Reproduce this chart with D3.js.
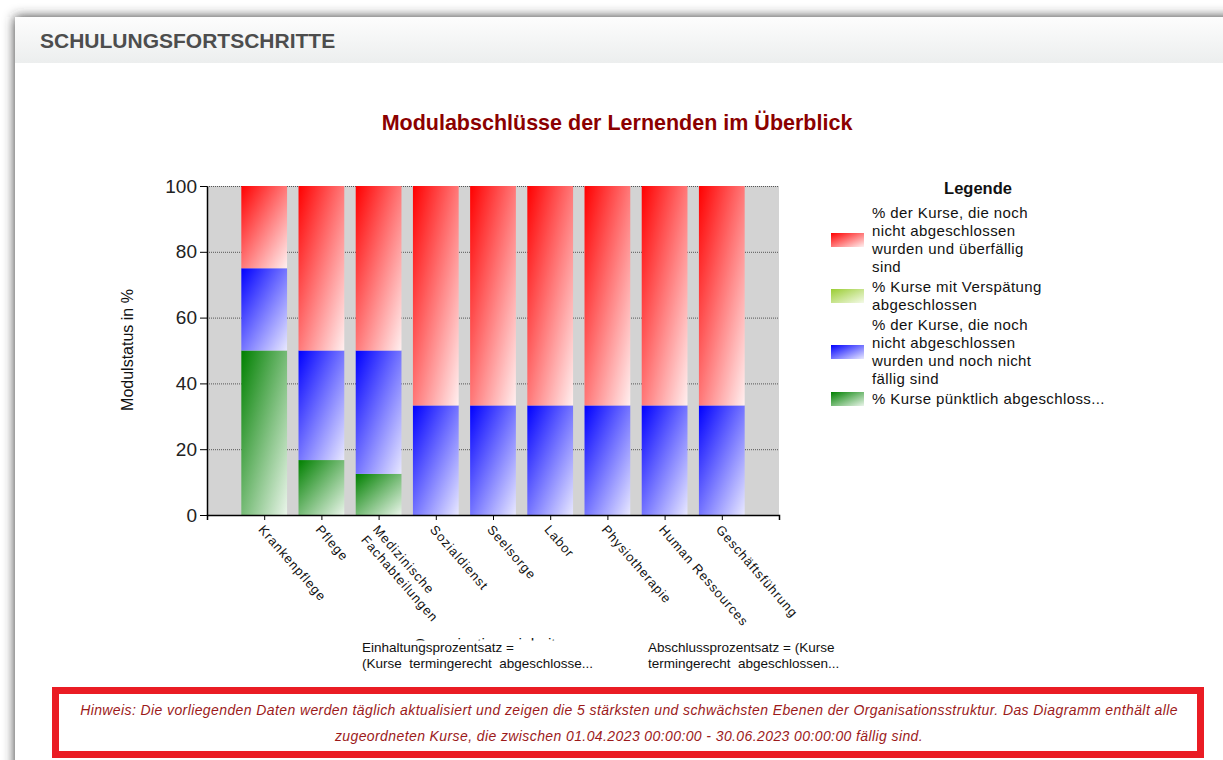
<!DOCTYPE html>
<html>
<head>
<meta charset="utf-8">
<script src="https://cdn.jsdelivr.net/npm/d3@7"></script>
<style>
  html, body { margin: 0; padding: 0; background: #fff; }
  svg { display: block; font-family: "Liberation Sans", Arial, sans-serif; }
</style>
</head>
<body>
<div id="chart"></div>
<script>
var categories = ["Krankenpflege", "Pflege", "Medizinische Fachabteilungen", "Sozialdienst", "Seelsorge", "Labor", "Physiotherapie", "Human Ressources", "Geschäftsführung"];
var categoryLines = [["Krankenpflege"], ["Pflege"], ["Medizinische", "Fachabteilungen"], ["Sozialdienst"], ["Seelsorge"], ["Labor"], ["Physiotherapie"], ["Human Ressources"], ["Geschäftsführung"]];

// stacked from bottom to top
var puenktlich   = [50, 16.7, 12.5, 0, 0, 0, 0, 0, 0];
var verspaetet   = [0, 0, 0, 0, 0, 0, 0, 0, 0];
var offen        = [25, 33.3, 37.5, 33.3, 33.3, 33.3, 33.3, 33.3, 33.3];
var ueberfaellig = [25, 50, 50, 66.7, 66.7, 66.7, 66.7, 66.7, 66.7];

var yTicks = [0, 20, 40, 60, 80, 100];

var seriesKeys = ["puenktlich", "verspaetet", "offen", "ueberfaellig"];
var seriesColors = { puenktlich: "#008000", verspaetet: "#9acd32", offen: "#0000ff", ueberfaellig: "#ff0000" };
var seriesEnd = { puenktlich: "#eaf5ea", verspaetet: "#f4fae8", offen: "#e8e8ff", ueberfaellig: "#fff0f0" };

var legendEntries = [
    { key: "ueberfaellig", lines: ["% der Kurse, die noch", "nicht abgeschlossen", "wurden und überfällig", "sind"] },
    { key: "verspaetet", lines: ["% Kurse mit Verspätung", "abgeschlossen"] },
    { key: "offen", lines: ["% der Kurse, die noch", "nicht abgeschlossen", "wurden und noch nicht", "fällig sind"] },
    { key: "puenktlich", lines: ["% Kurse pünktlich abgeschloss..."] }
];

function init() {
    var W = 1223, H = 760;

    var svg = d3.select("#chart").append("svg")
        .attr("width", W)
        .attr("height", H);

    var defs = svg.append("defs");

    // panel shadow
    var sh = defs.append("filter").attr("id", "shadow")
        .attr("x", "-5%").attr("y", "-5%").attr("width", "110%").attr("height", "110%");
    sh.append("feGaussianBlur").attr("stdDeviation", 6);

    var hg = defs.append("linearGradient").attr("id", "hdr")
        .attr("x1", 0).attr("y1", 0).attr("x2", 0).attr("y2", 1);
    hg.append("stop").attr("offset", 0).attr("stop-color", "#fdfdfd");
    hg.append("stop").attr("offset", 1).attr("stop-color", "#eceeee");

    seriesKeys.forEach(function(k) {
        var g = defs.append("linearGradient").attr("id", "g-" + k)
            .attr("x1", 0).attr("y1", 0).attr("x2", 1).attr("y2", 1);
        g.append("stop").attr("offset", 0).attr("stop-color", seriesColors[k]);
        g.append("stop").attr("offset", 1).attr("stop-color", seriesEnd[k]);
    });

    svg.append("rect").attr("x", 15).attr("y", 17).attr("width", 1300).attr("height", 900)
        .attr("fill", "#333").attr("filter", "url(#shadow)");
    svg.append("rect").attr("x", 15).attr("y", 17).attr("width", 1300).attr("height", 900)
        .attr("fill", "#fff");
    svg.append("rect").attr("x", 15).attr("y", 17).attr("width", 1300).attr("height", 46)
        .attr("fill", "url(#hdr)");

    svg.append("text")
        .attr("x", 40).attr("y", 48)
        .attr("font-size", 21).attr("font-weight", "bold")
        .attr("fill", "#4d4d4d")
        .text("SCHULUNGSFORTSCHRITTE");

    svg.append("text")
        .attr("x", 617).attr("y", 130)
        .attr("text-anchor", "middle")
        .attr("font-size", 21.5).attr("font-weight", "bold")
        .attr("fill", "#8b0000")
        .text("Modulabschlüsse der Lernenden im Überblick");

    // plot
    var left = 207, right = 779, top = 186, bottom = 515;

    var xScale = d3.scaleLinear().domain([0, categories.length + 1]).range([left, right]);
    var yScale = d3.scaleLinear().domain([0, 100]).range([bottom, top]);
    var step = xScale(1) - xScale(0);
    var bw = step * 0.8;

    svg.append("rect")
        .attr("x", left).attr("y", top)
        .attr("width", right - left).attr("height", bottom - top)
        .attr("fill", "#d3d3d3");

    svg.append("g")
        .selectAll("line")
        .data(yTicks.filter(function(d) { return d > 0; }))
        .enter().append("line")
        .attr("x1", left).attr("x2", right)
        .attr("y1", function(d) { return yScale(d) + 0.5; })
        .attr("y2", function(d) { return yScale(d) + 0.5; })
        .attr("stroke", "#555")
        .attr("stroke-dasharray", "1,1");

    var rows = categories.map(function(c, i) {
        return { cat: c, i: i, puenktlich: puenktlich[i], verspaetet: verspaetet[i], offen: offen[i], ueberfaellig: ueberfaellig[i] };
    });
    var stack = d3.stack().keys(seriesKeys)(rows);

    svg.append("g")
        .selectAll("g")
        .data(stack)
        .enter().append("g")
        .attr("fill", function(s) { return "url(#g-" + s.key + ")"; })
        .selectAll("rect")
        .data(function(s) { return s; })
        .enter().append("rect")
        .attr("x", function(d) { return xScale(d.data.i + 1) - bw / 2; })
        .attr("y", function(d) { return yScale(d[1]); })
        .attr("width", bw)
        .attr("height", function(d) { return Math.max(0, yScale(d[0]) - yScale(d[1])); });

    // y axis
    var yAxis = svg.append("g")
        .attr("transform", "translate(" + left + ",0)")
        .call(d3.axisLeft(yScale).tickValues(yTicks).tickSize(7).tickPadding(3).tickSizeOuter(0));
    yAxis.select(".domain").attr("stroke", "#000").attr("stroke-width", 1.5);
    yAxis.selectAll(".tick line").attr("stroke", "#000");
    yAxis.selectAll("text")
        .attr("font-size", 19)
        .attr("font-family", "Liberation Sans, Arial, sans-serif")
        .attr("fill", "#222");

    // x axis
    var xAxis = svg.append("g")
        .attr("transform", "translate(0," + bottom + ")")
        .call(d3.axisBottom(xScale).tickValues(d3.range(1, categories.length + 1)).tickSize(5).tickFormat("").tickSizeOuter(5));
    xAxis.select(".domain").attr("stroke", "#000").attr("stroke-width", 1.5);
    xAxis.selectAll(".tick line").attr("stroke", "#000");

    var lbl = svg.append("g").selectAll("text")
        .data(categoryLines)
        .enter().append("text")
        .attr("transform", function(d, i) {
            return "translate(" + (xScale(i + 1) - 3) + "," + (bottom + 12) + ") rotate(49)";
        })
        .attr("font-size", 13)
        .attr("letter-spacing", 0.9)
        .attr("fill", "#111");
    lbl.selectAll("tspan")
        .data(function(d) { return d; })
        .enter().append("tspan")
        .attr("x", 0)
        .attr("dy", function(d, j) { return j === 0 ? "0.35em" : "1.2em"; })
        .text(function(d) { return d; });

    svg.append("text")
        .attr("transform", "translate(133,350) rotate(-90)")
        .attr("text-anchor", "middle")
        .attr("font-size", 16)
        .attr("fill", "#111")
        .text("Modulstatus in %");

    // x axis title, mostly hidden
    defs.append("clipPath").attr("id", "xclip")
        .append("rect").attr("x", 300).attr("y", 600).attr("width", 400).attr("height", 40.5);
    svg.append("text")
        .attr("x", 485).attr("y", 649)
        .attr("text-anchor", "middle")
        .attr("font-size", 15.5)
        .attr("fill", "#111")
        .attr("clip-path", "url(#xclip)")
        .text("Organisationseinheit");

    var notes = [
        { x: 362, lines: ["Einhaltungsprozentsatz =", "(Kurse  termingerecht  abgeschlosse..."] },
        { x: 648, lines: ["Abschlussprozentsatz = (Kurse", "termingerecht  abgeschlossen..."] }
    ];
    notes.forEach(function(n) {
        svg.append("text")
            .attr("x", n.x).attr("y", 652)
            .attr("font-size", 13.5)
            .attr("fill", "#111")
            .attr("xml:space", "preserve")
            .selectAll("tspan")
            .data(n.lines)
            .enter().append("tspan")
            .attr("x", n.x)
            .attr("dy", function(d, j) { return j === 0 ? 0 : 16; })
            .text(function(d) { return d; });
    });

    // legend
    var lg = svg.append("g");
    lg.append("text")
        .attr("x", 978).attr("y", 194)
        .attr("text-anchor", "middle")
        .attr("font-size", 16.5).attr("font-weight", "bold")
        .attr("fill", "#111")
        .text("Legende");

    var lineH = 18;
    var yCursor = 204;
    legendEntries.forEach(function(e) {
        var h = e.lines.length * lineH;
        lg.append("rect")
            .attr("x", 831).attr("y", yCursor + h / 2 - 7)
            .attr("width", 33).attr("height", 14)
            .attr("fill", "url(#g-" + e.key + ")");
        var t = lg.append("text")
            .attr("x", 872).attr("y", yCursor + 14)
            .attr("font-size", 15)
            .attr("letter-spacing", 0.4)
            .attr("fill", "#111");
        t.selectAll("tspan")
            .data(e.lines)
            .enter().append("tspan")
            .attr("x", 872)
            .attr("dy", function(d, j) { return j === 0 ? 0 : lineH; })
            .text(function(d) { return d; });
        yCursor += h + 2;
    });

    // hint box
    svg.append("rect")
        .attr("x", 55.5).attr("y", 690.5)
        .attr("width", 1145).attr("height", 64)
        .attr("fill", "#fff")
        .attr("stroke", "#ea1c24")
        .attr("stroke-width", 7);

    var hint = [
        "Hinweis: Die vorliegenden Daten werden täglich aktualisiert und zeigen die 5 stärksten und schwächsten Ebenen der Organisationsstruktur. Das Diagramm enthält alle",
        "zugeordneten Kurse, die zwischen 01.04.2023 00:00:00 - 30.06.2023 00:00:00 fällig sind."
    ];
    svg.append("g").selectAll("text")
        .data(hint)
        .enter().append("text")
        .attr("x", 629)
        .attr("y", function(d, i) { return 715 + i * 26; })
        .attr("text-anchor", "middle")
        .attr("font-size", 14)
        .attr("letter-spacing", 0.4)
        .attr("font-style", "italic")
        .attr("fill", "#9c1a1a")
        .text(function(d) { return d; });
}

window.onload = init;
</script>
</body>
</html>
